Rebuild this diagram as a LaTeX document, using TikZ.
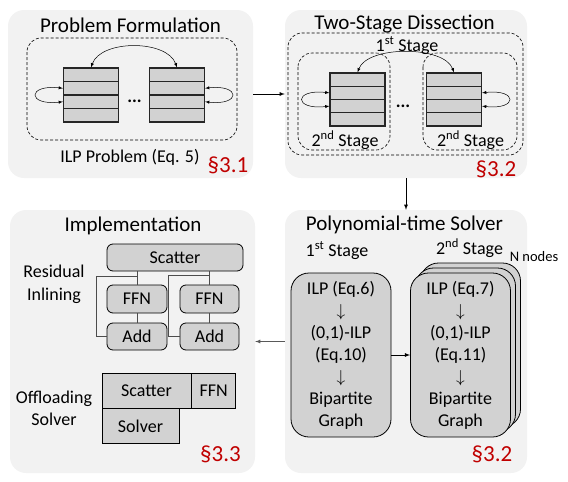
\documentclass[tikz,border=0pt]{standalone}
\usepackage{fontspec}
\setmainfont{Carlito}
\usetikzlibrary{calc}

\definecolor{panelgray}{RGB}{242,242,242}
\definecolor{boxgray}{RGB}{210,210,210}
\definecolor{secred}{RGB}{192,0,0}

\begin{document}
\begin{tikzpicture}[x=1pt, y=-1pt,
		panel/.style = {fill = panelgray, rounded corners = 16pt, inner sep = 0pt},
		title/.style = {anchor = base, font = \fontsize{21}{25}\selectfont},
		label/.style = {anchor = base, font = \fontsize{18}{22}\selectfont, align = center},
		sect/.style = {anchor = base, text = secred, font = \fontsize{23}{27}\selectfont},
		dashbox/.style = {draw, densely dashed, line width = 0.6pt, rounded corners = 14pt},
		stackrow/.style = {draw = black!85, fill = boxgray, line width = 1.1pt, minimum width = 55pt, inner sep = 0pt},
		procbox/.style = {draw, fill = boxgray, line width = 0.8pt, rounded corners = 18pt, minimum width = 100pt, minimum height = 164pt, align = center, font = \fontsize{18}{22}\selectfont},
		opbox/.style = {draw, fill = boxgray, line width = 0.8pt, rounded corners = 6pt, inner sep = 0pt, font = \fontsize{18}{22}\selectfont},
		slab/.style = {draw, fill = boxgray, line width = 0.8pt, inner sep = 0pt, minimum height = 35pt, font = \fontsize{18}{22}\selectfont},
		wire/.style = {draw = black!70, line width = 0.8pt},
		loop/.style = {latex-latex, line width = 0.5pt},
		flow/.style = {-latex, line width = 0.8pt}
	]
		\useasboundingbox (0,0) rectangle (568,482);
		
		% panels
		\node [panel, minimum width = 245pt, minimum height = 168pt] (formulation) at (130.5,94) {};
		\node [panel, minimum width = 242pt, minimum height = 168pt] (dissection) at (406,94) {};
		\node [panel, minimum width = 245pt, minimum height = 263pt] (implementation) at (132.5,341.5) {};
		\node [panel, minimum width = 242pt, minimum height = 263pt] (solver) at (406,341.5) {};
		
		\node [title] (formtitle) at (130.5,32) {Problem Formulation};
		\node [title] (disstitle) at (404.5,29.5) {Two-Stage Dissection};
		\node [title] (impltitle) at (133,231) {Implementation};
		\node [title] (solvtitle) at (404.5,230.7) {Polynomial-time Solver};
		
		% problem formulation
		\draw [dashbox] (27,38) rectangle (237,140);
		\foreach \i in {1,...,4} {
			\node [stackrow, minimum height = 13.5pt] (pa\i) at (91, {61.25+13.5*\i}) {};
			\node [stackrow, minimum height = 13.5pt] (pb\i) at (177, {61.25+13.5*\i}) {};
		}
		\node [font = \fontsize{18}{22}\selectfont\bfseries] (padots) at (134.5,101) {...};
		\draw [loop] (pa1.north) .. controls +(10,-28) and +(-10,-28) .. (pb1.north);
		\draw [loop] (pa2.west) .. controls +(-36,-4) and +(-36,4) .. (pa3.west);
		\draw [loop] (pb2.east) .. controls +(36,-4) and +(36,4) .. (pb3.east);
		\node [label] (ilp) at (130,162) {ILP Problem (Eq. 5)};
		\node [sect] (secone) at (228,172) {§3.1};
		
		% two-stage dissection
		\draw [dashbox] (288,33) rectangle (523,155);
		\draw [dashbox] (298,53) rectangle (390,150);
		\draw [dashbox] (423,53) rectangle (517,150);
		\foreach \i in {1,...,4} {
			\node [stackrow, minimum height = 13.25pt] (qa\i) at (357.5, {66.375+13.25*\i}) {};
			\node [stackrow, minimum height = 13.25pt] (qb\i) at (454, {66.375+13.25*\i}) {};
		}
		\node [font = \fontsize{18}{22}\selectfont\bfseries] (qadots) at (403,106) {...};
		\draw [loop] (qa1.north) .. controls +(10,-27) and +(-10,-27) .. (qb1.north);
		\draw [loop] (qa2.west) .. controls +(-36,-4) and +(-36,4) .. (qa3.west);
		\draw [loop] (qb2.east) .. controls +(36,-4) and +(36,4) .. (qb3.east);
		\node [label] (firstq) at (407,51) {1\textsuperscript{st} Stage};
		\node [label] (secondqa) at (345,146) {2\textsuperscript{nd} Stage};
		\node [label] (secondqb) at (470.5,146) {2\textsuperscript{nd} Stage};
		\node [sect] (sectwo) at (496,176.5) {§3.2};
		
		% polynomial-time solver
		\node [label] (firsts) at (337,256) {1\textsuperscript{st} Stage};
		\node [label] (seconds) at (469.5,254) {2\textsuperscript{nd} Stage};
		\node [anchor = base, font = \fontsize{14.5}{17}\selectfont] (nnodes) at (534,261.7) {N nodes};
		\node [procbox] (stageone) at (341,355) {ILP (Eq.6)\\$\downarrow$\\(0,1)-ILP\\(Eq.10)\\$\downarrow$\\Bipartite\\Graph};
		\foreach \d in {10,5}
			\node [procbox] (stageback\d) at (460.5+\d, 355-\d) {};
		\node [procbox] (stagetwo) at (460.5,355) {ILP (Eq.7)\\$\downarrow$\\(0,1)-ILP\\(Eq.11)\\$\downarrow$\\Bipartite\\Graph};
		\draw [flow] (stageone) -- (stagetwo);
		\node [sect] (secfour) at (492,461.7) {§3.2};
		
		% implementation
		\node [label] (residual) at (54,277) {Residual};
		\node [label] (inlining) at (54,300.7) {Inlining};
		\node [opbox, minimum width = 136pt, minimum height = 27pt] (scatter) at (175,257.5) {Scatter};
		\node [opbox, minimum width = 60pt, minimum height = 28pt] (ffnl) at (137,299) {FFN};
		\node [opbox, minimum width = 59pt, minimum height = 28pt] (ffnr) at (209.5,299) {FFN};
		\node [opbox, minimum width = 60pt, minimum height = 27pt] (addl) at (137,336.5) {Add};
		\node [opbox, minimum width = 59pt, minimum height = 27pt] (addr) at (209.5,336.5) {Add};
		\draw [wire] (scatter.south -| ffnl.north) -- (ffnl.north);
		\draw [wire] (scatter.south -| ffnr.north) -- (ffnr.north);
		\draw [wire] (ffnl) -- (addl);
		\draw [wire] (ffnr) -- (addr);
		\coordinate (resl) at ([yshift = -5pt] scatter.south -| ffnl.north);
		\coordinate (resr) at ([yshift = -4pt] scatter.south -| ffnr.north);
		\draw [wire] (resl) -| ([xshift = -10pt] addl.west) -- (addl.west);
		\draw [wire] (resr) -| ([xshift = -11pt] addr.west) -- (addr.west);
		
		\node [label] (offloading) at (54,403) {Offloading};
		\node [label] (solvername) at (54,425) {Solver};
		\node [slab, minimum width = 89pt] (oscatter) at (146.5,390.5) {Scatter};
		\node [slab, minimum width = 44pt, anchor = west] (offn) at (oscatter.east) {FFN};
		\node [slab, minimum width = 77pt, anchor = north west] (osolver) at (oscatter.south west) {Solver};
		\node [sect] (secthree) at (220.5,461.7) {§3.3};
		
		% flow between panels
		\draw [flow] (formulation) -- (dissection);
		\draw [flow] (dissection) -- (solver);
		\draw [flow, draw = black!65] (solver) -- (implementation);
	\end{tikzpicture}
\end{document}
